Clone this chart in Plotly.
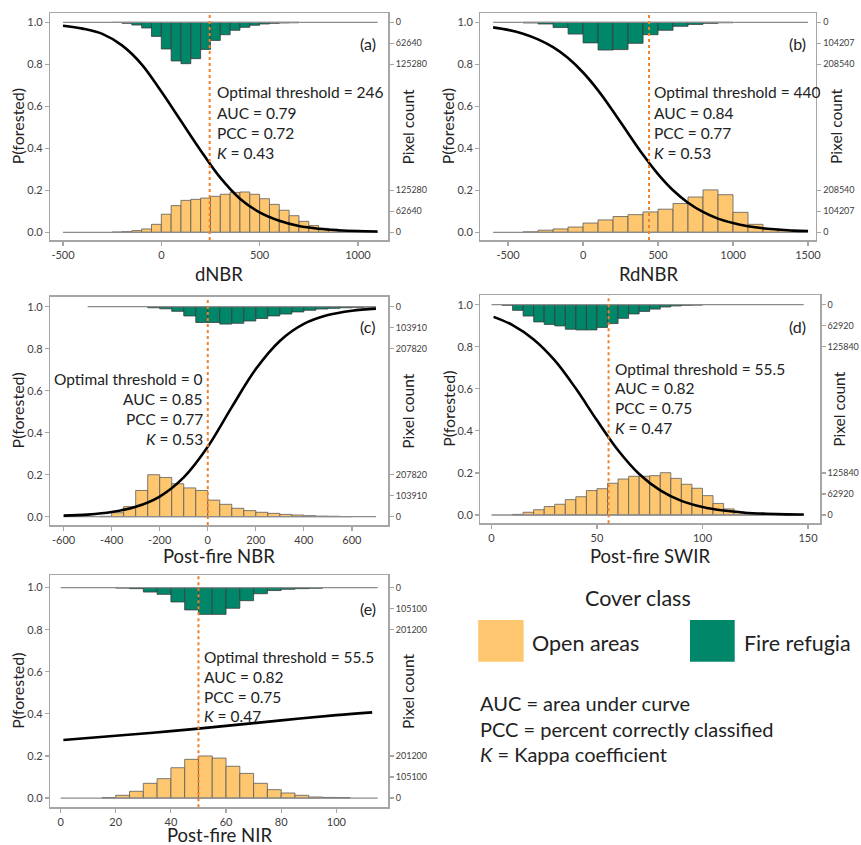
import plotly.graph_objects as go

W, H = 861, 845
FONT = "Lato"
OPEN_COLOR = "#FEC76F"
REF_COLOR = "#00876A"
THR_COLOR = "#F0802A"
FRAME_COLOR = "#A6A6A6"

# ---------------- data ----------------
# (a) dNBR
a_open_start = list(range(-250, 1001, 50))
a_open_count = [600, 1900, 5000, 10000, 23800, 53900, 79600, 95200, 98300, 102100, 107100, 113400, 119000,
                120300, 113400, 100200, 83300, 65800, 49500, 32600, 20000, 11900, 6900, 3100, 1900, 600]
a_ref_start = list(range(-250, 651, 50))
a_ref_count = [600, 3100, 8100, 16900, 42000, 79600, 115300, 123400, 108400, 80800, 53900, 37000, 23800,
               15000, 8800, 5000, 3100, 1900, 1300]
a_curve_x = [-500, -400, -300, -200, -100, 0, 100, 200, 300, 400, 500, 600, 700, 800, 900, 1000, 1100]
a_curve_p = [0.984, 0.970, 0.945, 0.89, 0.80, 0.67, 0.53, 0.39, 0.26, 0.16, 0.095, 0.055, 0.03, 0.017,
             0.01, 0.006, 0.004]
a_span = [-500, 1100]
a_threshold = 246
a_scale_labels = ["0", "62640", "125280"]
a_scale = 125280
a_stats = ["Optimal threshold = 246", "AUC = 0.79", "PCC = 0.72", "<i>K</i> = 0.43"]
a_xticks = [-500, 0, 500, 1000]

# (b) RdNBR
b_open_start = list(range(-400, 1401, 100))
b_open_count = [2100, 10400, 16700, 26100, 45900, 61500, 78200, 87600, 101100, 114700, 142800, 175200,
                210600, 186600, 99100, 39600, 16700, 8300, 3100]
b_ref_start = list(range(-400, 901, 100))
b_ref_count = [3100, 8300, 26100, 58400, 102200, 137600, 135600, 104300, 61500, 39600, 19800, 10400, 5200, 2100]
b_curve_x = [-600, -500, -400, -300, -200, -100, 0, 100, 200, 300, 400, 500, 600, 700, 800, 900, 1000,
             1100, 1200, 1300, 1400, 1500]
b_curve_p = [0.976, 0.964, 0.946, 0.919, 0.882, 0.83, 0.761, 0.676, 0.577, 0.472, 0.369, 0.277, 0.2, 0.141,
             0.097, 0.065, 0.044, 0.029, 0.019, 0.013, 0.008, 0.006]
b_span = [-600, 1500]
b_threshold = 440
b_scale_labels = ["0", "104207", "208540"]
b_scale = 208540
b_stats = ["Optimal threshold = 440", "AUC = 0.84", "PCC = 0.77", "<i>K</i> = 0.53"]
b_xticks = [-500, 0, 500, 1000, 1500]

# (c) Post-fire NBR
c_open_start = list(range(-450, 551, 50))
c_open_count = [2100, 19700, 49900, 129900, 207800, 194300, 163100, 142400, 129900, 82100, 61300, 41600,
                30100, 21800, 16600, 11400, 8300, 5200, 3100, 2100, 1000]
c_ref_start = list(range(-250, 651, 50))
c_ref_count = [5200, 10400, 22900, 45700, 77900, 77900, 86200, 82100, 70700, 58200, 45700, 36400, 26000,
               17700, 11400, 8300, 5200, 3100, 1000]
c_curve_x = [-600, -500, -400, -300, -200, -100, 0, 100, 200, 300, 400, 500, 600, 700]
c_curve_p = [0.005, 0.010, 0.022, 0.047, 0.096, 0.187, 0.333, 0.522, 0.703, 0.837, 0.918, 0.96, 0.981, 0.991]
c_span = [-600, 700]
c_span_top = [-500, 700]
c_threshold = 0
c_scale_labels = ["0", "103910", "207820"]
c_scale = 207820
c_stats = ["Optimal threshold = 0", "AUC = 0.85", "PCC = 0.77", "<i>K</i> = 0.53"]
c_xticks = [-600, -400, -200, 0, 200, 400, 600]

# (d) Post-fire SWIR
d_open_start = list(range(10, 136, 5))
d_open_count = [1900, 8200, 15700, 25200, 32100, 45900, 54700, 73000, 78700, 95000, 107600, 115800, 115800,
                117700, 126500, 109500, 91900, 79900, 57900, 34600, 18200, 8800, 3800, 1900, 1300, 600]
d_ref_start = list(range(5, 96, 5))
d_ref_count = [1900, 17000, 34000, 51600, 59100, 63500, 73600, 75500, 75500, 68000, 56600, 40900, 27700,
               20100, 13200, 6900, 3800, 1900, 1300]
d_curve_x = [1, 10, 20, 30, 40, 50, 60, 70, 80, 90, 100, 110, 120, 130, 140, 148]
d_curve_p = [0.942, 0.903, 0.835, 0.735, 0.601, 0.45, 0.308, 0.195, 0.117, 0.067, 0.038, 0.021, 0.011,
             0.006, 0.003, 0.002]
d_span = [0, 148]
d_threshold = 55.5
d_scale_labels = ["0", "62920", "125840"]
d_scale = 125840
d_stats = ["Optimal threshold = 55.5", "AUC = 0.82", "PCC = 0.75", "<i>K</i> = 0.47"]
d_xticks = [0, 50, 100, 150]

# (e) Post-fire NIR
e_open_start = list(range(15, 101, 5))
e_open_count = [2000, 13100, 32200, 70400, 92600, 144900, 185100, 201200, 191100, 151900, 117700, 70400,
                40200, 24100, 13100, 5000, 3000, 2000]
e_ref_start = list(range(20, 91, 5))
e_ref_count = [2000, 5000, 21100, 32200, 68400, 106600, 127800, 127800, 98600, 62400, 29200, 14100, 8000,
               5000, 3000]
e_curve_x = [1, 20, 40, 60, 80, 100, 113]
e_curve_p = [0.276, 0.296, 0.318, 0.343, 0.369, 0.394, 0.407]
e_span = [0, 115]
e_threshold = 50
e_scale_labels = ["0", "105100", "201200"]
e_scale = 201200
e_stats = ["Optimal threshold = 55.5", "AUC = 0.82", "PCC = 0.75", "<i>K</i> = 0.47"]
e_xticks = [0, 20, 40, 60, 80, 100]

x_titles = ["dNBR", "RdNBR", "Post-fire NBR", "Post-fire SWIR", "Post-fire NIR"]
panel_tags = ["(a)", "(b)", "(c)", "(d)", "(e)"]
legend_title = "Cover class"
legend_names = ["Open areas", "Fire refugia"]
definitions = ["AUC = area under curve", "PCC = percent correctly classified", "<i>K</i> = Kappa coefficient"]

# ---------------- layout geometry (pixels) ----------------
panels = [
    dict(frame=(50.7, 390.7, 13.3, 240.0), xr=(-564, 1155), yr=(-0.0367, 1.0429), bw=50,
         open_s=a_open_start, open_c=a_open_count, ref_s=a_ref_start, ref_c=a_ref_count,
         cx=a_curve_x, cp=a_curve_p, span=a_span, span_top=a_span, thr=a_threshold,
         S=a_scale, sl=a_scale_labels, stats=a_stats, xt=a_xticks,
         stat_pos=(216, [92, 112.5, 132.5, 153]), stat_anchor="left", tag=(370, 43.3), xtitle_y=274),
    dict(frame=(483.3, 820.7, 13.3, 240.0), xr=(-684, 1553), yr=(-0.0367, 1.0429), bw=100,
         open_s=b_open_start, open_c=b_open_count, ref_s=b_ref_start, ref_c=b_ref_count,
         cx=b_curve_x, cp=b_curve_p, span=b_span, span_top=b_span, thr=b_threshold,
         S=b_scale, sl=b_scale_labels, stats=b_stats, xt=b_xticks,
         stat_pos=(656.3, [92.3, 113, 133.3, 153.3]), stat_anchor="left", tag=(801.7, 43.3), xtitle_y=274),
    dict(frame=(50.7, 390.7, 296.7, 525.0), xr=(-655, 752), yr=(-0.0395, 1.0476), bw=50,
         open_s=c_open_start, open_c=c_open_count, ref_s=c_ref_start, ref_c=c_ref_count,
         cx=c_curve_x, cp=c_curve_p, span=c_span, span_top=c_span_top, thr=c_threshold,
         S=c_scale, sl=c_scale_labels, stats=c_stats, xt=c_xticks,
         stat_pos=(206, [379, 398.5, 419, 439.3]), stat_anchor="right", tag=(370, 326.7), xtitle_y=556),
    dict(frame=(483.3, 825.0, 295.0, 523.3), xr=(-5.2, 155.8), yr=(-0.0395, 1.046), bw=5,
         open_s=d_open_start, open_c=d_open_count, ref_s=d_ref_start, ref_c=d_ref_count,
         cx=d_curve_x, cp=d_curve_p, span=d_span, span_top=d_span, thr=d_threshold,
         S=d_scale, sl=d_scale_labels, stats=d_stats, xt=d_xticks,
         stat_pos=(616.3, [369, 388.3, 407.7, 428.3]), stat_anchor="left", tag=(801.7, 326.7), xtitle_y=556),
    dict(frame=(50.7, 390.7, 575.0, 807.3), xr=(-3.7, 118.9), yr=(-0.044, 1.06), bw=5,
         open_s=e_open_start, open_c=e_open_count, ref_s=e_ref_start, ref_c=e_ref_count,
         cx=e_curve_x, cp=e_curve_p, span=e_span, span_top=e_span, thr=e_threshold,
         S=e_scale, sl=e_scale_labels, stats=e_stats, xt=e_xticks,
         stat_pos=(203, [656.7, 676.7, 696.7, 716]), stat_anchor="left", tag=(370, 608), xtitle_y=834.5),
]


def fx(px):
    return px / W


def fy(py):
    return 1 - py / H


fig = go.Figure()
annotations = []
shapes = []
layout_axes = {}

for i, p in enumerate(panels, start=1):
    x0, x1, y0, y1 = p["frame"]
    S = p["S"]
    xa = "x" if i == 1 else f"x{i}"
    ycnt = "y" if i == 1 else f"y{i}"          # count axis (base, right side)
    yp = f"y{i + 5}"                            # probability axis (overlay, left side)
    bw = p["bw"]
    top_level = 5 * S  # count-axis position of P = 1.0

    # open areas histogram (from bottom)
    fig.add_trace(go.Bar(
        x=[s + bw / 2 for s in p["open_s"]], y=p["open_c"], width=bw, base=0,
        marker=dict(color=OPEN_COLOR, line=dict(color="#5a5a5a", width=0.8)),
        xaxis=xa, yaxis=ycnt, showlegend=False, hoverinfo="skip"))
    # fire refugia histogram (hanging from top)
    fig.add_trace(go.Bar(
        x=[s + bw / 2 for s in p["ref_s"]], y=[-c for c in p["ref_c"]], width=bw, base=top_level,
        marker=dict(color=REF_COLOR, line=dict(color="#3a3a3a", width=0.8)),
        xaxis=xa, yaxis=ycnt, showlegend=False, hoverinfo="skip"))
    # baselines
    fig.add_trace(go.Scatter(x=p["span"], y=[0, 0], mode="lines",
                             line=dict(color="#8c8c8c", width=1.3),
                             xaxis=xa, yaxis=yp, showlegend=False, hoverinfo="skip"))
    fig.add_trace(go.Scatter(x=p["span_top"], y=[1, 1], mode="lines",
                             line=dict(color="#8c8c8c", width=1.3),
                             xaxis=xa, yaxis=yp, showlegend=False, hoverinfo="skip"))
    # fitted curve
    fig.add_trace(go.Scatter(x=p["cx"], y=p["cp"], mode="lines",
                             line=dict(color="black", width=2.6, shape="spline", smoothing=1.0),
                             xaxis=xa, yaxis=yp, showlegend=False, hoverinfo="skip"))

    # threshold line
    shapes.append(dict(type="line", xref=xa, yref=f"{ycnt} domain", x0=p["thr"], x1=p["thr"], y0=0, y1=1,
                       line=dict(color=THR_COLOR, width=2, dash="dot"), layer="above"))

    xk = "xaxis" if i == 1 else f"xaxis{i}"
    yk = "yaxis" if i == 1 else f"yaxis{i}"
    ypk = f"yaxis{i + 5}"
    ydom = [fy(y1), fy(y0)]
    layout_axes[xk] = dict(
        domain=[fx(x0), fx(x1)], range=list(p["xr"]), anchor=ycnt,
        showline=True, linecolor=FRAME_COLOR, linewidth=1.5, mirror=True,
        ticks="outside", ticklen=4, tickcolor=FRAME_COLOR, tickwidth=1.2,
        tickvals=p["xt"], ticktext=[str(v) for v in p["xt"]],
        tickfont=dict(family=FONT, size=11, color="#404040"),
        showgrid=False, zeroline=False, fixedrange=True)
    yr0, yr1 = p["yr"]
    layout_axes[yk] = dict(
        domain=ydom, range=[yr0 * 5 * S, yr1 * 5 * S], anchor=xa, side="right",
        showline=True, linecolor=FRAME_COLOR, linewidth=1.5,
        ticks="outside", ticklen=4, tickcolor=FRAME_COLOR, tickwidth=1.2,
        tickvals=[0, S / 2, S, 4 * S, 4.5 * S, 5 * S],
        ticktext=[p["sl"][0], p["sl"][1], p["sl"][2], p["sl"][2], p["sl"][1], p["sl"][0]],
        tickfont=dict(family=FONT, size=9, color="#404040"),
        showgrid=False, zeroline=False, fixedrange=True)
    layout_axes[ypk] = dict(
        range=[yr0, yr1], overlaying=ycnt, anchor=xa, side="left",
        showline=True, linecolor=FRAME_COLOR, linewidth=1.5,
        ticks="outside", ticklen=4, tickcolor=FRAME_COLOR, tickwidth=1.2,
        tickvals=[0, 0.2, 0.4, 0.6, 0.8, 1.0], ticktext=["0.0", "0.2", "0.4", "0.6", "0.8", "1.0"],
        tickfont=dict(family=FONT, size=11, color="#404040"),
        showgrid=False, zeroline=False, fixedrange=True)

    # axis titles
    midy = (y0 + y1) / 2
    annotations.append(dict(text=x_titles[i - 1], x=fx((x0 + x1) / 2), y=fy(p["xtitle_y"]),
                            xref="paper", yref="paper", showarrow=False, xanchor="center", yanchor="middle",
                            font=dict(family=FONT, size=18.5, color="#222")))
    annotations.append(dict(text="P(forested)", x=fx(x0 - 33), y=fy(midy), textangle=-90,
                            xref="paper", yref="paper", showarrow=False, xanchor="center", yanchor="middle",
                            font=dict(family=FONT, size=16, color="#222")))
    annotations.append(dict(text="Pixel count", x=fx(x1 + 19.5), y=fy(midy), textangle=-90,
                            xref="paper", yref="paper", showarrow=False, xanchor="center", yanchor="middle",
                            font=dict(family=FONT, size=15.5, color="#222")))
    # panel tag
    annotations.append(dict(text=panel_tags[i - 1], x=fx(p["tag"][0]), y=fy(p["tag"][1]),
                            xref="paper", yref="paper", showarrow=False, xanchor="center", yanchor="middle",
                            font=dict(family=FONT, size=16, color="#222")))
    # stats
    sx, sys_ = p["stat_pos"]
    for txt, syy in zip(p["stats"], sys_):
        annotations.append(dict(text=txt, x=fx(sx), y=fy(syy), xref="paper", yref="paper",
                                showarrow=False, xanchor=p["stat_anchor"], yanchor="middle",
                                font=dict(family=FONT, size=15.5, color="#222")))

# legend block
annotations.append(dict(text=legend_title, x=fx(641.7), y=fy(598.3), xref="paper", yref="paper",
                        showarrow=False, xanchor="center", yanchor="middle",
                        font=dict(family=FONT, size=21.5, color="#222")))
for (sx0, sx1, tx), name, col in zip([(481, 526.7, 533), (694, 739, 746.3)], legend_names,
                                      [OPEN_COLOR, REF_COLOR]):
    shapes.append(dict(type="rect", xref="paper", yref="paper", x0=fx(sx0), x1=fx(sx1),
                       y0=fy(661.7), y1=fy(620), fillcolor=col, line=dict(width=0)))
    annotations.append(dict(text=name, x=fx(tx), y=fy(643), xref="paper", yref="paper",
                            showarrow=False, xanchor="left", yanchor="middle",
                            font=dict(family=FONT, size=21.5, color="#222")))
for txt, yy in zip(definitions, [703.3, 729.3, 754]):
    annotations.append(dict(text=txt, x=fx(481), y=fy(yy), xref="paper", yref="paper",
                            showarrow=False, xanchor="left", yanchor="middle",
                            font=dict(family=FONT, size=20, color="#222")))

fig.update_layout(
    width=W, height=H, autosize=False,
    margin=dict(l=0, r=0, t=0, b=0),
    paper_bgcolor="white", plot_bgcolor="white",
    barmode="overlay", bargap=0,
    font=dict(family=FONT),
    annotations=annotations, shapes=shapes,
    showlegend=False, hovermode=False,
    **layout_axes)

fig.write_html("out.html", config={"displayModeBar": False, "staticPlot": True},
               post_script="document.body.style.margin='0';document.body.style.padding='0';")
